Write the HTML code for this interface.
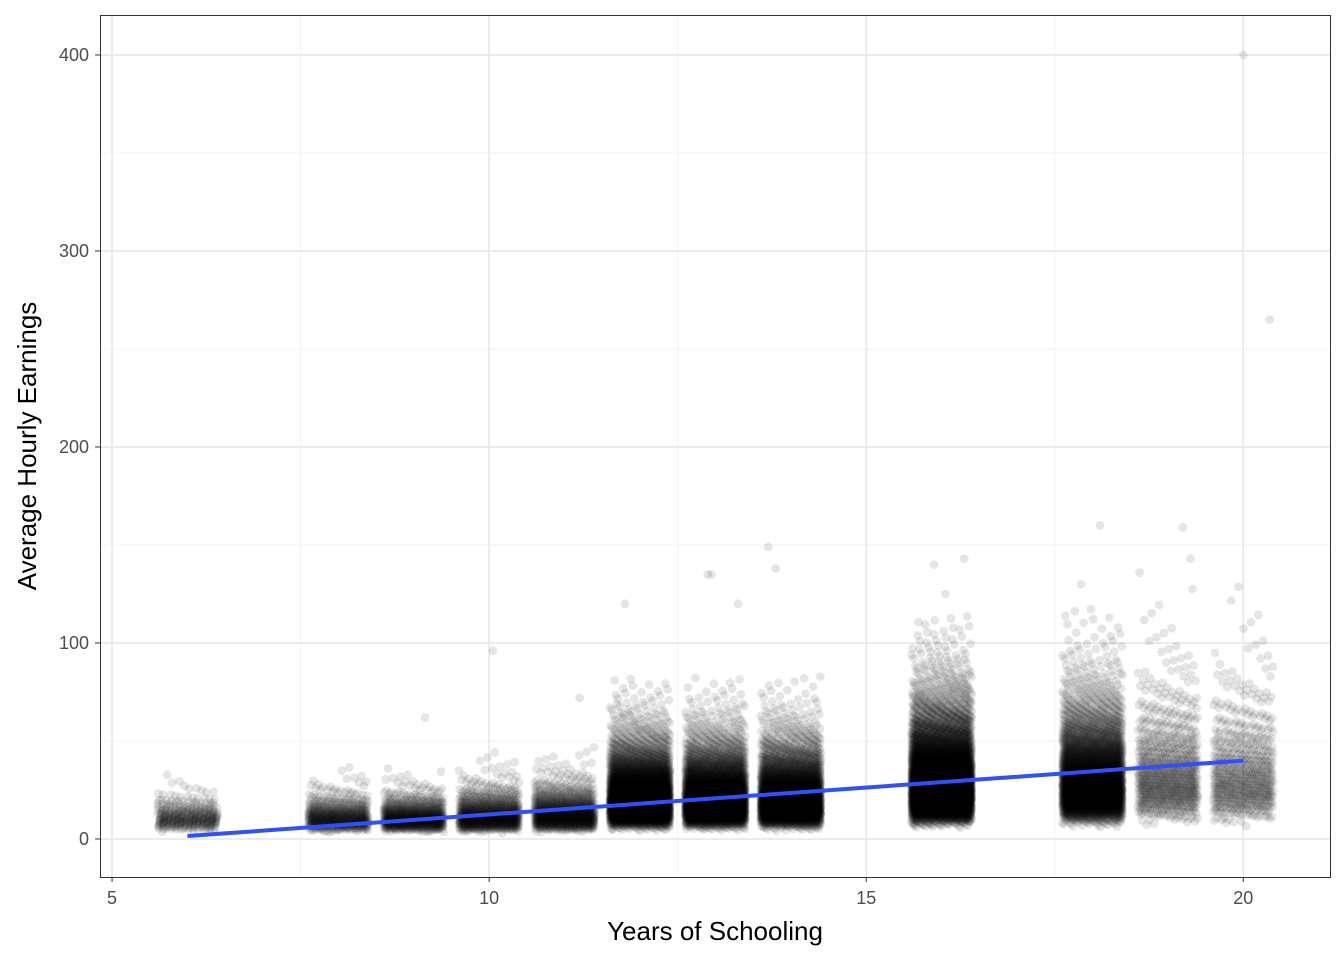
<!DOCTYPE html>
<html><head><meta charset="utf-8"><style>
body{margin:0;background:#fff;font-family:"Liberation Sans",Arial,sans-serif}
svg text{font-family:"Liberation Sans",Arial,sans-serif}
</style></head><body>
<svg id="chart" width="1344" height="960" xmlns="http://www.w3.org/2000/svg">
<rect width="1344" height="960" fill="#fff"/>
<g id="grid"></g>
<g id="pts"></g>
<g id="fit"></g>
<rect x="100.5" y="15.5" width="1230" height="862" fill="none" stroke="#333" stroke-width="1"/>
<g id="axes"></g>
<text x="715" y="940" text-anchor="middle" font-size="26" fill="#000">Years of Schooling</text>
<text transform="translate(36,446) rotate(-90)" text-anchor="middle" font-size="26" fill="#000">Average Hourly Earnings</text>
</svg>
<script>
const groupYears=[6,8,9,10,11,12,13,14,16,18,19,20];
const groupCounts=[300,520,680,780,880,3600,3200,3000,5000,3200,700,560];
const groupMedians=[11,11,11,12,13,21,21,21,29,30,33,32];
const groupSpreads=[0.42,0.45,0.45,0.48,0.48,0.5,0.5,0.5,0.5,0.5,0.52,0.52];
const outlierX=[20,20.35,18.1,19.2,13.7,13.8,16.3,12.9,19.3,10.05,9.15,11.2,11.8,17.85,15.9,16.05,12.95,13.3];
const outlierY=[400,265,160,159,149,138,143,135,143,96,62,72,120,130,140,125,135,120];
const fitX=[6,20];
const fitY=[1.5,40];
const xTicks=[5,10,15,20];
const yTicks=[0,100,200,300,400];
const xMinor=[7.5,12.5,17.5];
const yMinor=[50,150,250,350];

const X0=100,X1=1330,Y0=877,Y1=15,xmin=4.84,xmax=21.15,ymin=-19.4,ymax=420.4;
const sx=v=>X0+(v-xmin)/(xmax-xmin)*(X1-X0);
const sy=v=>Y0-(v-ymin)/(ymax-ymin)*(Y0-Y1);
const NS="http://www.w3.org/2000/svg";
function mk(t,a,p){const e=document.createElementNS(NS,t);for(const k in a)e.setAttribute(k,a[k]);p.appendChild(e);return e;}
const grid=document.getElementById('grid'),axes=document.getElementById('axes'),pts=document.getElementById('pts');
xMinor.forEach(v=>{const l=mk('line',{x1:sx(v),x2:sx(v),y1:Y1,y2:Y0,stroke:'#f2f2f2','stroke-width':1},grid);});
yMinor.forEach(v=>{const l=mk('line',{x1:X0,x2:X1,y1:sy(v),y2:sy(v),stroke:'#f2f2f2','stroke-width':1},grid);});
xTicks.forEach(v=>{const l=mk('line',{x1:sx(v),x2:sx(v),y1:Y1,y2:Y0,stroke:'#ebebeb','stroke-width':2},grid);
 const t=mk('line',{x1:sx(v),x2:sx(v),y1:Y0,y2:Y0+5,stroke:'#333','stroke-width':1},axes);
 const tx=mk('text',{x:sx(v),y:Y0+27,'text-anchor':'middle','font-size':18,fill:'#4d4d4d'},axes);tx.textContent=v;});
yTicks.forEach(v=>{const l=mk('line',{x1:X0,x2:X1,y1:sy(v),y2:sy(v),stroke:'#ebebeb','stroke-width':2},grid);
 const t=mk('line',{x1:X0-5,x2:X0,y1:sy(v),y2:sy(v),stroke:'#333','stroke-width':1},axes);
 const tx=mk('text',{x:X0-11,y:sy(v)+6,'text-anchor':'end','font-size':18,fill:'#4d4d4d'},axes);tx.textContent=v;});
function probit(p){const a=[-39.696830,220.946098,-275.928510,138.357751,-30.664798,2.506628],b=[-54.476098,161.585836,-155.698979,66.801311,-13.280681],c=[-0.007784894,-0.32239645,-2.400758,-2.549732,4.374664,2.938163],d=[0.007784695,0.32246712,2.445134,3.754408];
 let q,r;if(p<0.02425){q=Math.sqrt(-2*Math.log(p));return(((((c[0]*q+c[1])*q+c[2])*q+c[3])*q+c[4])*q+c[5])/((((d[0]*q+d[1])*q+d[2])*q+d[3])*q+1);}
 if(p>1-0.02425){q=Math.sqrt(-2*Math.log(1-p));return-(((((c[0]*q+c[1])*q+c[2])*q+c[3])*q+c[4])*q+c[5])/((((d[0]*q+d[1])*q+d[2])*q+d[3])*q+1);}
 q=p-0.5;r=q*q;return(((((a[0]*r+a[1])*r+a[2])*r+a[3])*r+a[4])*r+a[5])*q/(((((b[0]*r+b[1])*r+b[2])*r+b[3])*r+b[4])*r+1);}
let parts=[];
groupYears.forEach((yr,g)=>{const n=groupCounts[g];
 for(let i=0;i<n;i++){const u=(0.5+(i+1)*0.7548776662+g*0.13)%1,v=(0.5+(i+1)*0.5698402910+g*0.29)%1;
  let val=groupMedians[g]*Math.exp(groupSpreads[g]*probit(0.0005+v*0.9965));
  val=Math.max(2.5+3*((i*0.3819660113)%1),val);
  parts.push('<circle cx="'+sx(yr-0.4+0.8*u).toFixed(1)+'" cy="'+sy(val).toFixed(1)+'" r="4.4"/>');}});
outlierX.forEach((x,i)=>parts.push('<circle cx="'+sx(x).toFixed(1)+'" cy="'+sy(outlierY[i]).toFixed(1)+'" r="4.4"/>'));
pts.setAttribute('fill','#000');pts.setAttribute('fill-opacity','0.1');
pts.innerHTML=parts.join('');
const fl=mk('line',{x1:sx(fitX[0]),y1:sy(fitY[0]),x2:sx(fitX[1]),y2:sy(fitY[1]),stroke:'#3050ff','stroke-width':4},document.getElementById('fit'));

</script>
</body></html>
